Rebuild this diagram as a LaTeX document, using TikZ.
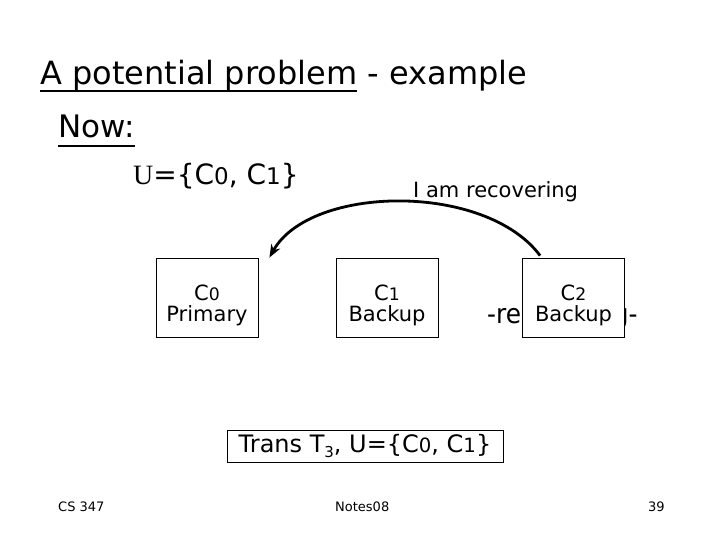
\documentclass[tikz,border=0pt]{standalone}
\usepackage{fontspec}
\setmainfont{DejaVu Sans}
\newfontfamily\serifU{Liberation Serif}
\usetikzlibrary{arrows.meta,calc}
\newcommand{\fs}[1]{\fontsize{#1bp}{#1bp}\selectfont}
\newcommand{\dg}[1]{{\scalebox{0.82}{#1}}}
\tikzset{
  txt/.style={inner sep=0pt, anchor=base west},
  uline/.style={line width=2.2bp},
  srv/.style={draw, line width=0.8bp, fill=white, minimum width=102bp, minimum height=79bp, inner sep=0pt},
  srvtxt/.style={inner sep=0pt, align=center, font=\fs{21}},
  arr/.style={line width=2.8bp, -{Stealth[length=13bp,width=10bp]}}
}
\begin{document}
\begin{tikzpicture}[x=1bp,y=-1bp]
\useasboundingbox (0,0) rectangle (720,540);
% title
\node[txt, font=\fs{32}] (t1) at (40,85) {A potential problem};
\node[txt, font=\fs{32}] (t2) at (t1.base east) {\ - example};
\draw[uline] ([yshift=-6bp]t1.base west) -- ([yshift=-6bp]t1.base east);
% Now
\node[txt, font=\fs{31}] (now) at (58,138) {Now:};
\draw[uline] ([yshift=-8bp]now.base west) -- ([yshift=-8bp]now.base east);
% U set
\node[txt, font=\fs{28}] (uset) at (133,185) {{\serifU U}=\{C\dg{0}, C\dg{1}\}};
% I am recovering
\node[txt, font=\fs{21}] (rec) at (413,198) {I am recovering};
% -recovering- behind C2
\node[txt, font=\fs{27}] (recb) at (487,323) {\scalebox{0.92}[1]{-recovering-}};
% boxes
\node[srv] (c0) at (207,297.5) {};
\node[srv] (c1) at (387,297.5) {};
\node[srv] (c2) at (573.5,297.5) {};
\node[srvtxt] (c0t) at ([yshift=-8bp]c0.center) {C\dg{0}\\Primary};
\node[srvtxt] (c1t) at ([yshift=-8bp]c1.center) {C\dg{1}\\Backup};
\node[srvtxt] (c2t) at ([yshift=-8bp]c2.center) {C\dg{2}\\Backup};
% arrow
\coordinate (tip) at ($(c0.north east)+(11,0)$);
\coordinate (st) at ($(c2.north west)+(18,-2)$);
\draw[arr] (st) .. controls (485,182) and (310,185) .. (tip);
% bottom box
\node[draw, line width=0.8bp, minimum width=276bp, minimum height=32bp, inner sep=0pt, font=\fs{24}] (tr) at (365,446) {Trans T\raisebox{-0.35ex}{\fs{15}3}, U=\{C\dg{0}, C\dg{1}\}};
% footer
\node[txt, font=\fs{13}] (f1) at (58,511) {CS 347};
\node[txt, font=\fs{13}] (f2) at (335,511) {Notes08};
\node[txt, font=\fs{13}] (f3) at (648,511) {39};
\end{tikzpicture}
\end{document}
